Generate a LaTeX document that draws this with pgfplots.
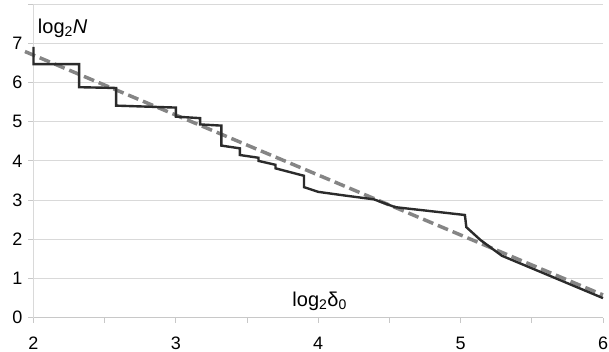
\documentclass[border=0pt]{standalone}
\usepackage{fontspec}
\setmainfont{Liberation Sans}
\usepackage{pgfplots}
\pgfplotsset{compat=1.18}
\definecolor{gridc}{HTML}{D9D9D9}
\definecolor{axisc}{HTML}{C8C8C8}
\definecolor{solidc}{HTML}{2B2B2B}
\definecolor{dashc}{HTML}{858585}
\begin{document}
\begin{tikzpicture}
\begin{axis}[
  name=ax, at={(0,0)}, anchor=south west,
  scale only axis, width=569.5pt, height=313.6pt,
  xmin=2, xmax=6, ymin=0, ymax=8,
  axis x line*=bottom, axis y line*=left,
  axis line style={-, draw=axisc, line width=0.8pt},
  y axis line style={draw=gridc},
  xtick={2,3,4,5,6}, minor xtick={2.5,3.5,4.5,5.5},
  ytick={0,1,2,3,4,5,6,7,8}, yticklabels={0,1,2,3,4,5,6,7,{}},
  tick align=outside, major tick length=5pt, minor tick length=5pt,
  tick style={draw=axisc, line width=0.8pt},
  ymajorgrids, grid style={draw=gridc, line width=0.8pt},
  /pgf/number format/assume math mode=true,
  tick label style={font=\fontsize{18}{21}\selectfont, text=black},
  xticklabel style={inner sep=1pt, yshift=-13pt},
  yticklabel style={xshift=-2.5pt},
  clip=false,
]
\addplot[dashc, line width=3.5pt, dash pattern=on 11pt off 5pt] coordinates {(1.94,6.79) (6.0,0.58)};
\addplot[solidc, line width=2.4pt, line join=miter] coordinates {
(2.0,6.91) (2.0,6.47) (2.32,6.47) (2.32,5.88) (2.58,5.86) (2.58,5.41)
(3.0,5.36) (3.0,5.13) (3.17,5.09) (3.17,4.93) (3.32,4.90) (3.32,4.39)
(3.45,4.32) (3.45,4.15) (3.58,4.08) (3.58,4.00) (3.70,3.90) (3.70,3.81)
(3.90,3.62) (3.90,3.33) (4.0,3.21) (4.2,3.11) (4.39,3.02) (4.54,2.82)
(5.03,2.62) (5.04,2.31) (5.14,1.98) (5.29,1.58) (6.0,0.50)};
\node[anchor=base west, inner sep=0pt, font=\fontsize{20}{24}\selectfont] at (axis cs:2.03,7.25) {log\textsubscript{2}\textit{N}};
\node[anchor=base, inner sep=0pt, font=\fontsize{20}{24}\selectfont] at (axis cs:4.01,0.28) {log\textsubscript{2}δ\textsubscript{0}};
\end{axis}
\pgfresetboundingbox
\path (-33.5pt,-34.3pt) rectangle (575.5pt,317.7pt);
\end{tikzpicture}
\end{document}
